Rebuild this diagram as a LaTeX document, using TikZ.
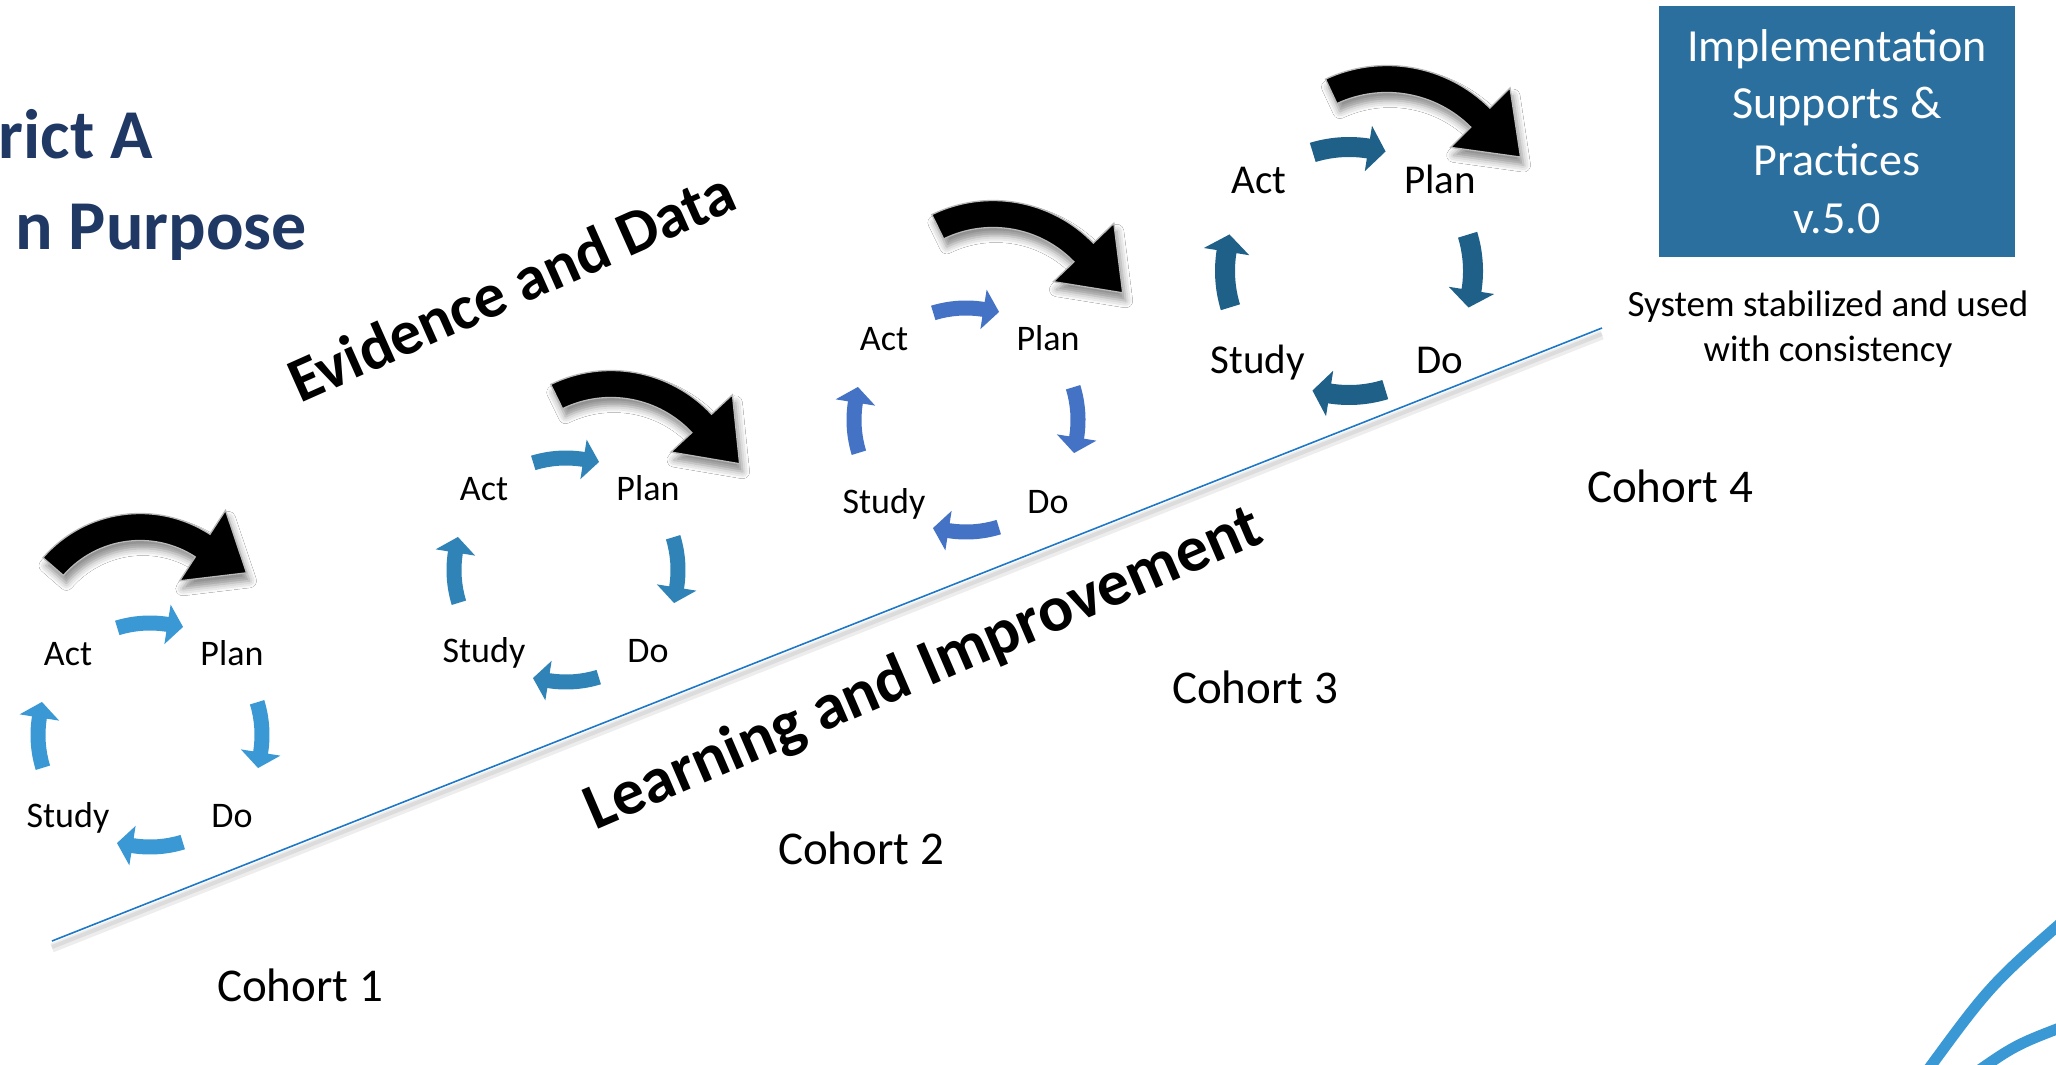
\documentclass[tikz,border=0pt]{standalone}
\usepackage{fontspec}
\setmainfont{Carlito}
\usetikzlibrary{shadows.blur}
\definecolor{cyA}{HTML}{3A99D4}
\definecolor{cyB}{HTML}{2F83B7}
\definecolor{cyC}{HTML}{4472C4}
\definecolor{cyD}{HTML}{1F6089}
\definecolor{boxblue}{HTML}{2A6F9E}
\definecolor{titleblue}{HTML}{1F3864}
\definecolor{linecol}{HTML}{1E78C8}
% blue cycle arrow: cx, cy (px, down), radius, mid angle, body half width, head half width, colour
\newcommand{\pdsaarrow}[7]{%
  \begin{scope}[shift={(#1,-#2)}]
    \fill[#7] ({#4+17}:{#3+#5}) arc[start angle={#4+17}, end angle={#4-9}, radius={#3+#5}]
      -- ({#4-9}:{#3+#6}) -- ({#4-17}:{#3+1}) -- ({#4-9}:{#3-#6}) -- ({#4-9}:{#3-#5})
      arc[start angle={#4-9}, end angle={#4+17}, radius={#3-#5}] -- cycle;
  \end{scope}}
% big black curved arrow: cx, cy (px, down), radius, tail angle, head base angle, tip angle
\newcommand{\bigarrow}[6]{%
  \begin{scope}[shift={(#1,-#2)}]
    \fill[black, draw=gray!55, line width=1.3pt,
      blur shadow={shadow xshift=3pt, shadow yshift=-8pt, shadow blur radius=7pt, shadow opacity=45}]
      ({#4}:{#3+13.5}) arc[start angle={#4}, end angle={#5}, radius={#3+13.5}]
      -- ({#5}:{#3+42}) -- ({#6}:{#3+12}) -- ({#5}:{#3-42}) -- ({#5}:{#3-13.5})
      arc[start angle={#5}, end angle={#4}, radius={#3-13.5}] -- cycle;
  \end{scope}}
\begin{document}
\begin{tikzpicture}[x=1pt,y=1pt,
  lbl/.style={font=\fontsize{36}{43}\selectfont, anchor=base, inner sep=0pt},
  lblbig/.style={font=\fontsize{41}{49}\selectfont, anchor=base, inner sep=0pt},
  cohort/.style={font=\fontsize{47}{56}\selectfont, anchor=base, inner sep=0pt},
  slant/.style={font=\bfseries\fontsize{63}{75}\selectfont, anchor=base, inner sep=0pt, rotate=24},
  title/.style={font=\bfseries\fontsize{70}{84}\selectfont, text=titleblue, anchor=base east, inner sep=0pt}]
\useasboundingbox (0,0) rectangle (2056,-1065);
\fill[white] (0,0) rectangle (2056,-1065);

% title (cut at left edge)
\node[title] (t1) at (153,-158) {rict A};
\node[title] (t2) at (307,-249) {n Purpose};

% baseline with shadow
\coordinate (ls) at (52,-941);
\coordinate (le) at (1602,-328);
\draw[black, opacity=0.07, line width=9pt] ([yshift=-7pt]ls) -- ([yshift=-7pt]le);
\draw[black, opacity=0.07, line width=4pt] ([yshift=-6pt]ls) -- ([yshift=-6pt]le);
\draw[linecol, line width=1.6pt] (ls) -- (le);

% slanted labels
\node[slant] (evid) at (520,-306) {Evidence and Data};
\node[slant, rotate=-0.7, font=\bfseries\fontsize{65}{78}\selectfont] (learn) at (931,-686) {Learning and Improvement};

% cycle 1
\node[lbl] (c1act) at (68,-665) {Act};
\node[lbl] (c1plan) at (232,-665) {Plan};
\node[lbl] (c1study) at (68,-827) {Study};
\node[lbl] (c1do) at (232,-827) {Do};
\pdsaarrow{150}{735}{112}{90}{7.5}{20}{cyA}
\pdsaarrow{150}{735}{112}{0}{7.5}{20}{cyA}
\pdsaarrow{150}{735}{112}{270}{7.5}{20}{cyA}
\pdsaarrow{150}{735}{112}{180}{7.5}{20}{cyA}
\bigarrow{140}{642}{115}{139}{57}{33}

% cycle 2
\node[lbl] (c2act) at (484,-500) {Act};
\node[lbl] (c2plan) at (648,-500) {Plan};
\node[lbl] (c2study) at (484,-662) {Study};
\node[lbl] (c2do) at (648,-662) {Do};
\pdsaarrow{566}{570}{112}{90}{7.5}{20}{cyB}
\pdsaarrow{566}{570}{112}{0}{7.5}{20}{cyB}
\pdsaarrow{566}{570}{112}{270}{7.5}{20}{cyB}
\pdsaarrow{566}{570}{112}{180}{7.5}{20}{cyB}
\bigarrow{611}{508}{124}{116}{43}{19}

% cycle 3
\node[lbl] (c3act) at (884,-350) {Act};
\node[lbl] (c3plan) at (1048,-350) {Plan};
\node[lbl] (c3study) at (884,-513) {Study};
\node[lbl] (c3do) at (1048,-513) {Do};
\pdsaarrow{966}{420}{112}{90}{7.5}{20}{cyC}
\pdsaarrow{966}{420}{112}{0}{7.5}{20}{cyC}
\pdsaarrow{966}{420}{112}{270}{7.5}{20}{cyC}
\pdsaarrow{966}{420}{112}{180}{7.5}{20}{cyC}
\bigarrow{993}{340}{126}{116}{44}{20}

% cycle 4
\node[lblbig] (c4act) at (1259,-193) {Act};
\node[lblbig] (c4plan) at (1440,-193) {Plan};
\node[lblbig] (c4study) at (1258,-373) {Study};
\node[lblbig] (c4do) at (1440,-373) {Do};
\pdsaarrow{1349}{271}{124}{90}{10}{23}{cyD}
\pdsaarrow{1349}{271}{124}{0}{10}{23}{cyD}
\pdsaarrow{1349}{271}{124}{270}{10}{23}{cyD}
\pdsaarrow{1349}{271}{124}{180}{10}{23}{cyD}
\bigarrow{1387}{211}{132}{115}{45}{22}

% cohorts
\node[cohort] (co1) at (300,-1001) {Cohort 1};
\node[cohort] (co2) at (861,-864) {Cohort 2};
\node[cohort] (co3) at (1255,-703) {Cohort 3};
\node[cohort] (co4) at (1670,-502) {Cohort 4};

% box and caption
\node[fill=boxblue, minimum width=356pt, minimum height=251pt, inner sep=0pt,
  text=white, align=center, font=\fontsize{46}{57.3}\selectfont] (box) at (1837,-131.5)
  {Implementation\\Supports \&\\Practices\\v.5.0};
\node[font=\fontsize{37}{45}\selectfont, align=center, inner sep=0pt] (sys) at (1828,-329)
  {System stabilized and used\\with consistency};

% decorative arcs bottom right
\draw[cyA, line width=11pt] (2070,-915) .. controls (1990,-985) .. (1922,-1078);
\draw[cyA, line width=11pt] (2070,-1024) .. controls (2015,-1045) .. (1968,-1078);
\end{tikzpicture}
\end{document}
